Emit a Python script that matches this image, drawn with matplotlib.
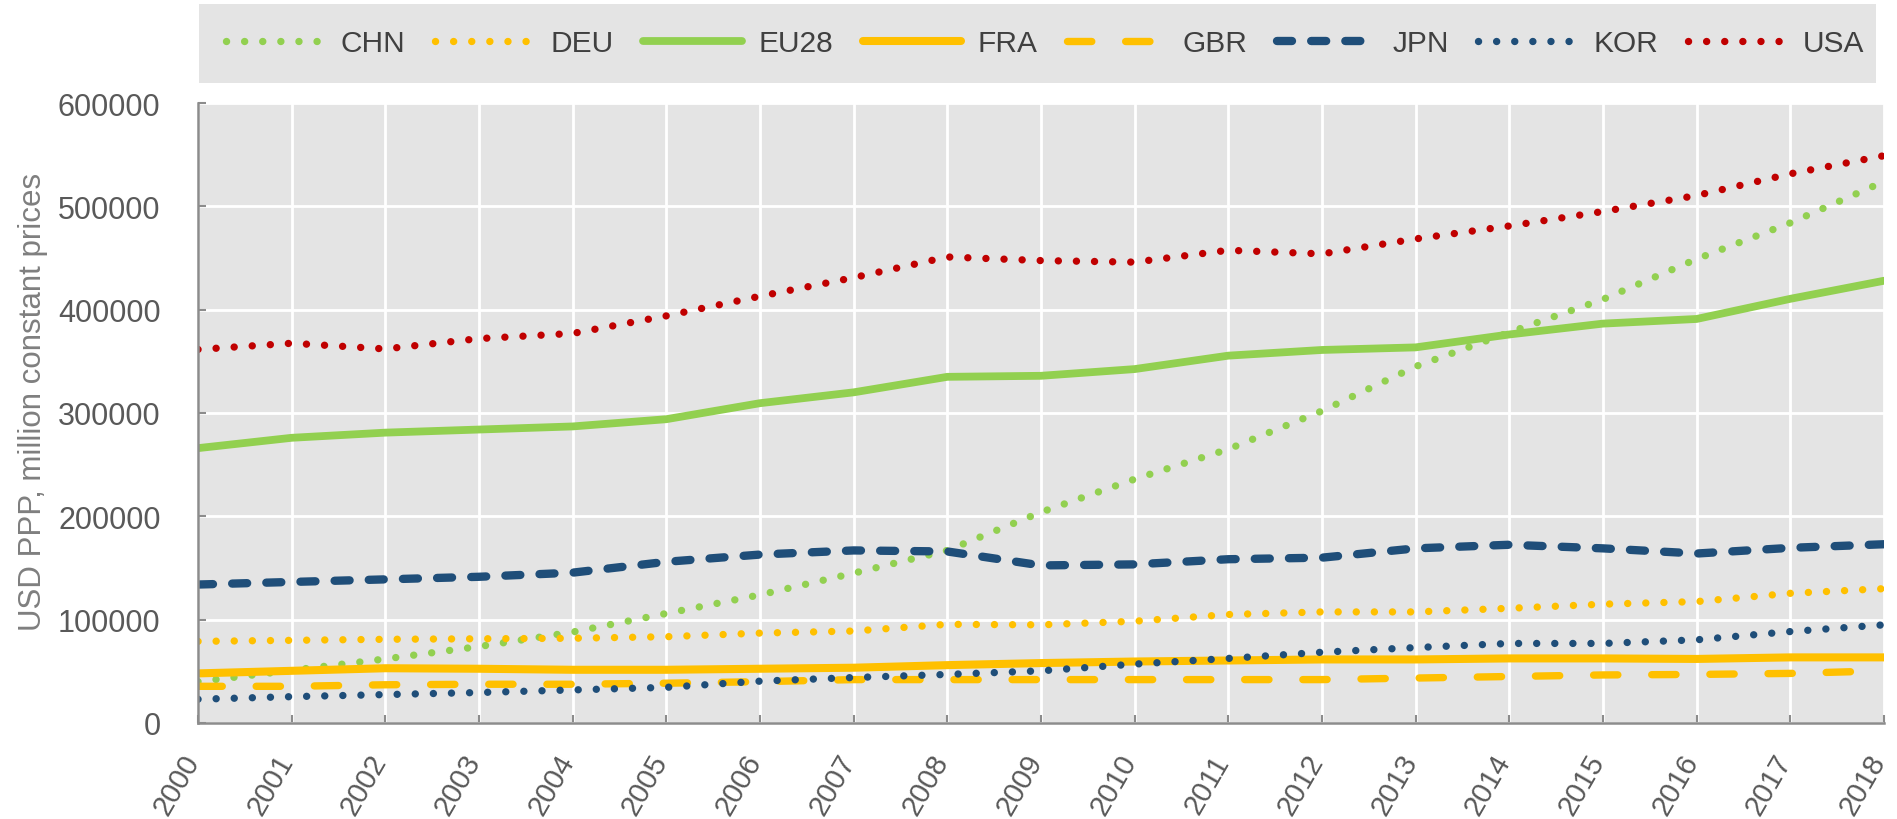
import matplotlib as mpl
import matplotlib.pyplot as plt
from matplotlib.patches import Rectangle
from matplotlib.transforms import ScaledTranslation
mpl.rc('font', family=['Liberation Sans', 'DejaVu Sans'])

years = list(range(2000, 2019))
chn = [40000, 51000, 62000, 74000, 88000, 106000, 124000, 145000, 167000, 204000,
       236000, 265000, 302000, 345000, 378000, 410000, 449000, 484000, 524000]
deu = [79000, 80000, 81000, 81500, 82000, 83500, 87000, 89000, 95500, 95000,
       98500, 105000, 107500, 107500, 111000, 115000, 117500, 125500, 130000]
eu28 = [266000, 276000, 281000, 284000, 287000, 294000, 309500, 320000, 335000, 336000,
        342500, 355500, 361000, 363500, 376000, 386500, 391000, 410500, 428000]
fra = [48000, 50500, 53000, 52500, 51500, 51500, 52500, 53500, 56000, 58000,
       59500, 60500, 61500, 61500, 62500, 62500, 62000, 63500, 63500]
gbr = [35500, 35500, 37000, 37500, 37500, 38500, 40000, 42000, 42000, 42000,
       42000, 42000, 42000, 43500, 45000, 46500, 47000, 48000, 50500]
jpn = [134000, 136500, 139000, 141500, 145500, 156000, 163000, 167000, 166000, 152500,
       153500, 158500, 160000, 169000, 172500, 169000, 164000, 169500, 173000]
kor = [23000, 25500, 27500, 29500, 32000, 34500, 40500, 44000, 47000, 50500,
       57000, 62500, 68500, 73000, 77000, 77000, 80500, 88500, 95000]
usa = [361500, 367500, 362000, 372000, 377000, 394000, 413000, 431000, 451000, 447500,
       446000, 457500, 454000, 468500, 481000, 495000, 510500, 531500, 549000]

GREEN = '#92D050'
YELLOW = '#FFC000'
NAVY = '#1F4E79'
RED = '#C00000'

dot = dict(lw=5.3, ls=(0, (0.01, 2.45)), dash_capstyle='round')
series = [
  ('CHN', chn, GREEN, dot),
  ('DEU', deu, YELLOW, dot),
  ('EU28', eu28, GREEN, dict(lw=5.6, ls='-', solid_capstyle='round')),
  ('FRA', fra, YELLOW, dict(lw=5.8, ls='-', solid_capstyle='round')),
  ('GBR', gbr, YELLOW, dict(lw=5.3, ls=(0, (3.3, 4.6)), dash_capstyle='round')),
  ('JPN', jpn, NAVY, dict(lw=6.0, ls=(0, (1.8, 2.3)), dash_capstyle='round')),
  ('KOR', kor, NAVY, dot),
  ('USA', usa, RED, dot),
]

fig = plt.figure(figsize=(18.97, 8.20), dpi=100)
ax = fig.add_axes([198/1897, 1 - 724/820, (1884 - 198)/1897, (724 - 104)/820])
ax.set_facecolor('#E4E4E4')

for name, vals, col, st in series:
  ax.plot(years, vals, color=col, label=name, **st)

ax.set_xlim(2000, 2018)
ax.set_ylim(0, 600000)
ax.set_xticks(years)
ax.set_yticks(range(0, 600001, 100000))
ax.grid(True, color='white', lw=2)
ax.set_axisbelow(True)
for s in ['top', 'right']:
  ax.spines[s].set_visible(False)
for s in ['left', 'bottom']:
  ax.spines[s].set_color('#8C8C8C')
  ax.spines[s].set_linewidth(1.8)

ax.tick_params(axis='both', direction='in', length=6, width=1.5, color='#8C8C8C')
ax.tick_params(axis='y', labelsize=22, labelcolor='#595959', pad=27)
ax.tick_params(axis='x', labelsize=21, labelcolor='#595959', pad=19)
for lab in ax.get_xticklabels():
  lab.set_rotation(60)
  lab.set_ha('right')
  lab.set_va('top')
  lab.set_transform(lab.get_transform() + ScaledTranslation(0.07, 0, fig.dpi_scale_trans))

ax.set_ylabel('USD PPP, million constant prices', fontsize=22.5, color='#7F7F7F')
ax.yaxis.set_label_coords(-0.089, 0.52)

# legend band above the plot
fig.patches.append(Rectangle((199/1897, 1 - 84/820), (1876 - 199)/1897, 79/820,
                             transform=fig.transFigure, facecolor='#E4E4E4',
                             edgecolor='none', zorder=0))
fig.legend(loc='center', bbox_to_anchor=((199 + 1876)/2/1897 + 0.004, 1 - 44/820),
           ncol=8, frameon=False, fontsize=21.5, handlelength=3.3,
           handletextpad=0.55, columnspacing=1.0, labelcolor='#404040')

plt.savefig('out.png', dpi=100)
